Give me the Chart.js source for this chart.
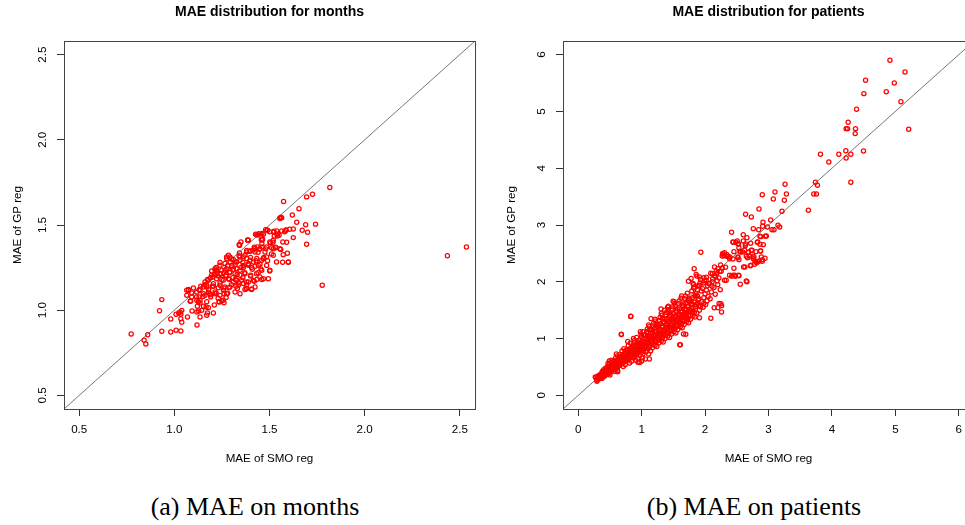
<!DOCTYPE html>
<html>
<head>
<meta charset="utf-8">
<script src="https://cdn.jsdelivr.net/npm/chart.js@4.4.1/dist/chart.umd.min.js"></script>
<style>
  html, body { margin: 0; padding: 0; background: #fff; }
  body { width: 965px; height: 525px; overflow: hidden; position: relative; }
  canvas { position: absolute; top: 0; }
  .cap { position: absolute; width: 400px; text-align: center; font-family: "Liberation Serif", "Times New Roman", serif;
         font-size: 26px; line-height: 30px; color: #000; top: 492px; }
</style>
</head>
<body>
<canvas id="months" width="485" height="480" style="left:0px"></canvas>
<canvas id="patients" width="500" height="480" style="left:485px"></canvas>
<div class="cap" style="left:55px">(a) MAE on months</div>
<div class="cap" style="left:554px">(b) MAE on patients</div>
<script>
// axis ranges (R adds 4% each side) and tick labels
const monthsRange = [0.42, 2.58];
const patientsRange = [-0.24, 6.24];
const monthsTicks = [0.5, 1.0, 1.5, 2.0, 2.5];
const patientsTicks = [0, 1, 2, 3, 4, 5, 6];

// [MAE of SMO reg, MAE of GP reg] per month
const monthsPts = [
  [1.817,1.72],[1.726,1.681],[1.695,1.665],[1.574,1.638],[1.655,1.595],[1.620,1.559],[1.555,1.538],[1.564,1.542],
  [1.643,1.516],[1.690,1.501],[1.742,1.505],[1.672,1.469],[1.700,1.458],[1.625,1.477],[1.606,1.475],[1.587,1.471],
  [1.564,1.465],[1.538,1.465],[1.522,1.458],[1.480,1.473],[1.490,1.469],[1.468,1.446],[1.454,1.440],[1.438,1.442],
  [1.427,1.446],[1.462,1.414],[1.385,1.411],[1.625,1.426],[1.590,1.399],[1.525,1.434],[1.504,1.395],[1.518,1.399],
  [1.511,1.366],[1.485,1.371],[1.534,1.367],[1.559,1.356],[1.461,1.371],[1.447,1.358],[1.436,1.371],[1.424,1.362],
  [1.412,1.352],[1.398,1.348],[1.380,1.342],[1.343,1.381],[1.342,1.336],[1.594,1.334],[1.520,1.322],[1.485,1.313],
  [1.459,1.293],[1.433,1.303],[1.398,1.293],[1.380,1.303],[1.363,1.313],[1.345,1.293],[1.328,1.283],[1.310,1.297],
  [1.275,1.313],[1.284,1.322],[1.293,1.283],[1.266,1.274],[1.240,1.264],[1.214,1.244],[1.196,1.230],[1.223,1.234],
  [1.249,1.234],[1.275,1.244],[1.301,1.254],[1.328,1.244],[1.345,1.234],[1.363,1.250],[1.389,1.264],[1.406,1.250],
  [1.424,1.258],[1.455,1.242],[1.501,1.230],[1.569,1.281],[1.599,1.281],[1.695,1.387],[1.777,1.146],[1.468,1.185],
  [1.459,1.180],[1.433,1.180],[1.406,1.125],[1.377,1.129],[1.380,1.166],[1.354,1.176],[1.328,1.176],[1.307,1.191],
  [1.289,1.180],[1.272,1.205],[1.244,1.211],[1.223,1.215],[1.202,1.195],[1.174,1.180],[1.161,1.166],[1.139,1.140],
  [1.170,1.136],[1.205,1.140],[1.231,1.132],[1.258,1.117],[1.287,1.132],[1.324,1.140],[1.331,1.127],[1.261,1.097],
  [1.272,1.074],[1.249,1.054],[1.235,1.050],[1.214,1.097],[1.191,1.078],[1.179,1.105],[1.153,1.097],[1.130,1.078],
  [1.118,1.058],[1.135,1.042],[1.121,1.023],[1.153,1.023],[1.167,1.019],[1.179,1.015],[1.118,0.989],[1.144,0.999],
  [1.174,0.984],[1.091,1.101],[1.074,1.121],[1.065,1.117],[1.086,1.054],[1.093,0.995],[1.128,0.995],[1.205,0.984],
  [1.170,0.970],[1.135,0.960],[1.119,0.913],[1.069,0.960],[1.039,0.999],[1.030,0.989],[1.023,0.984],[1.034,0.976],
  [1.009,0.976],[1.034,0.950],[1.039,0.929],[0.981,0.948],[0.934,1.062],[0.922,0.997],[0.934,0.876],[0.981,0.872],
  [1.009,0.882],[1.034,0.878],[0.860,0.856],[0.773,0.860],[0.841,0.823],[0.850,0.802],
  [1.555,1.541],[1.488,1.469],[1.443,1.449],[1.464,1.416],[1.389,1.410],[1.341,1.385],[1.523,1.463],[1.541,1.436],
  [1.586,1.469],[1.502,1.400],[1.520,1.361],[1.555,1.361],[1.572,1.326],[1.599,1.283],[1.537,1.283],[1.476,1.342],
  [1.450,1.361],[1.424,1.342],[1.397,1.346],[1.371,1.322],[1.345,1.312],[1.319,1.283],[1.292,1.312],[1.275,1.302],
  [1.301,1.263],[1.327,1.244],[1.362,1.263],[1.389,1.273],[1.415,1.283],[1.441,1.263],[1.467,1.302],[1.485,1.263],
  [1.459,1.234],[1.432,1.214],[1.401,1.205],[1.371,1.214],[1.345,1.205],[1.319,1.214],[1.292,1.224],[1.266,1.234],
  [1.240,1.214],[1.214,1.234],[1.196,1.205],[1.222,1.185],[1.257,1.175],[1.284,1.185],[1.310,1.165],[1.336,1.146],
  [1.362,1.156],[1.389,1.165],[1.415,1.175],[1.450,1.195],[1.494,1.185],[1.502,1.234],[1.424,1.136],[1.380,1.126],
  [1.371,1.122],[1.406,1.122],[1.345,1.097],[1.319,1.107],[1.292,1.136],[1.266,1.136],[1.240,1.146],[1.205,1.156],
  [1.179,1.175],[1.170,1.146],[1.152,1.136],[1.135,1.116],[1.117,1.107],[1.100,1.130],[1.074,1.116],[1.117,1.077],
  [1.135,1.058],[1.161,1.087],[1.187,1.097],[1.214,1.107],[1.240,1.087],[1.257,1.058],[1.275,1.097],[1.236,1.048],
  [1.261,1.044],[1.126,1.048],[1.091,1.077],[1.065,1.087],[1.083,1.052],
  [1.386,1.412],[1.342,1.381],[1.457,1.414],[1.433,1.443],[1.560,1.545],[1.541,1.447],
  [1.22,1.25],[1.24,1.28],[1.26,1.22],[1.28,1.26],[1.30,1.30],[1.32,1.27],[1.34,1.32],[1.36,1.28],[1.38,1.35],
  [1.40,1.31],[1.42,1.37],[1.44,1.34],[1.46,1.39],[1.48,1.36],[1.25,1.18],[1.27,1.20],[1.29,1.22],[1.31,1.24],
  [1.33,1.21],[1.35,1.25],[1.37,1.22],[1.39,1.27],[1.41,1.24],[1.43,1.29],[1.45,1.27],[1.47,1.31],[1.49,1.29],
  [1.51,1.33],[1.18,1.12],[1.20,1.14],[1.22,1.10],[1.24,1.16],[1.26,1.13],[1.28,1.10],[1.30,1.15],[1.32,1.18],
  [1.34,1.16],[1.36,1.19],[1.38,1.15],[1.40,1.20],[1.42,1.17],[1.44,1.22],[1.15,1.08],[1.17,1.05],[1.19,1.09],
  [1.21,1.03],[1.23,1.07],[1.13,1.12],[1.16,1.15],[1.19,1.19],[1.21,1.21],[1.23,1.20],[1.52,1.41],[1.55,1.44],
  [1.58,1.46],[1.53,1.37],[1.57,1.40],[1.46,1.45],[1.50,1.46],[1.35,1.40],
  [2.435,1.320],[2.535,1.371]
];

// [MAE of SMO reg, MAE of GP reg] per patient
const patientsPts = [
  [4.915,5.90],[5.152,5.695],[4.530,5.548],[4.983,5.501],[4.857,5.348],[4.504,5.313],[5.088,5.172],[4.388,5.037],
  [5.210,4.685],[4.256,4.808],[4.224,4.697],[4.246,4.697],[4.372,4.697],[4.367,4.609],[4.219,4.309],[4.498,4.303],
  [4.224,4.180],[4.298,4.245],[3.819,4.245],[4.109,4.245],[3.951,4.110],[4.298,3.752],[3.740,3.752],[3.772,3.699],
  [3.714,3.546],[3.756,3.546],[3.629,3.259],[3.261,3.716],[3.282,3.546],[3.102,3.581],[2.902,3.534],[3.076,3.458],
  [3.250,3.435],[2.850,3.282],[3.213,3.241],[2.639,3.188],[2.729,3.141],[3.034,3.088],[2.913,3.047],[3.150,2.994],
  [3.176,2.965],[3.055,2.918],[3.087,2.918],[2.982,2.965],[2.845,2.918],[2.760,2.936],[2.908,2.977],[2.418,2.871],
  [2.602,2.830],[2.660,2.777],[2.950,2.801],[2.866,2.801],[2.444,2.695],[2.528,2.666],[2.507,2.718],[2.823,2.695],
  [2.918,2.654],[2.639,2.666],[1.933,2.519],[2.729,2.554],[2.549,2.537],[2.686,2.519],[2.871,2.542],[2.275,2.495],
  [2.297,2.460],[2.339,2.449],[2.391,2.437],[2.518,2.437],[2.650,2.449],[2.771,2.437],[2.887,2.437],
  [2.602,2.718],[2.966,2.806],[2.876,2.795],[2.439,2.701],[2.486,2.695],[2.518,2.671],[2.829,2.701],[2.718,2.677],
  [2.866,2.660],[2.634,2.636],[2.534,2.595],[2.623,2.554],[2.739,2.554],[2.802,2.531],[2.876,2.542],[2.676,2.519],
  [2.455,2.531],[2.560,2.525],[2.307,2.513],[2.344,2.478],[2.281,2.495],[2.270,2.454],[2.365,2.442],[2.386,2.407],
  [2.439,2.401],[2.518,2.425],[2.534,2.390],[2.592,2.525],[2.671,2.425],[2.702,2.448],[2.755,2.448],[2.760,2.407],
  [2.786,2.366],[2.855,2.366],[2.902,2.390],[2.945,2.413],[2.723,2.290],[2.628,2.261],[2.781,2.308],[2.829,2.355],
  [1.828,2.231],[2.149,2.261],[2.270,2.243],[2.455,2.237],[2.607,2.261],[2.323,2.255],[2.175,2.190],[2.254,2.184],
  [1.859,2.131],[1.912,2.084],[1.981,2.073],[2.017,2.026],[2.118,2.143],[2.165,2.096],[2.218,2.067],[2.112,2.002],
  [2.060,1.967],[1.975,1.979],[1.912,1.938],[1.833,1.908],[1.738,2.008],[2.333,2.026],[2.418,2.096],[2.470,2.114],
  [2.534,2.108],[2.555,1.955],[2.650,2.014],
  [2.244,2.296],[2.202,2.231],[2.386,2.114],[2.439,2.114],[2.476,2.096],[2.528,2.114],[2.713,2.284],[2.813,2.337],
  [2.902,2.360],[2.660,2.002],[2.307,2.026],[2.260,1.468],[2.091,1.357],[2.250,1.615],[2.202,1.544],[2.144,1.544],
  [1.912,1.368],[1.601,0.893],[1.696,1.075],[0.827,1.392],[0.680,1.075],[1.148,1.351],[1.122,0.640],[0.943,0.582],
  [1.000,0.605],[0.622,0.417],[0.295,0.247],[0.269,0.323],[0.342,0.294],[0.490,0.605],[1.306,1.521],[1.422,1.568],
  [1.496,1.656],
  [0.28,0.31],[0.30,0.27],[0.31,0.34],[0.33,0.30],[0.34,0.36],[0.32,0.33],[0.35,0.32],
  [0.36,0.38],[0.37,0.33],[0.38,0.42],[0.39,0.36],[0.40,0.45],[0.41,0.39],[0.42,0.34],[0.43,0.48],[0.44,0.41],
  [0.38,0.30],[0.42,0.44],[0.45,0.37],
  [0.46,0.50],[0.47,0.43],[0.48,0.38],[0.49,0.55],[0.50,0.47],[0.51,0.41],[0.52,0.58],[0.53,0.52],[0.54,0.44],
  [0.47,0.56],[0.50,0.36],[0.55,0.49],[0.52,0.62],
  [0.56,0.60],[0.57,0.46],[0.58,0.53],[0.59,0.66],[0.60,0.57],[0.61,0.48],[0.62,0.70],[0.63,0.62],[0.64,0.52],
  [0.58,0.42],[0.65,0.67],[0.60,0.73],[0.62,0.44],[0.64,0.58],
  [0.66,0.72],[0.67,0.55],[0.68,0.63],[0.69,0.78],[0.70,0.68],[0.71,0.51],[0.72,0.82],[0.73,0.60],[0.74,0.74],
  [0.75,0.65],[0.68,1.07],[0.70,0.58],[0.72,0.70],[0.74,0.54],[0.66,0.64],
  [0.76,0.80],[0.77,0.62],[0.78,0.71],[0.79,0.88],[0.80,0.76],[0.81,0.57],[0.82,0.92],[0.83,0.68],[0.84,0.84],
  [0.85,0.73],[0.83,1.39],[0.78,0.95],[0.80,0.64],[0.82,0.80],[0.84,0.60],[0.77,0.74],
  [0.86,0.88],[0.87,0.66],[0.88,0.77],[0.89,0.97],[0.90,0.83],[0.91,0.62],[0.92,1.02],[0.93,0.73],[0.94,0.92],
  [0.95,0.79],[0.87,1.00],[0.90,0.70],[0.92,0.87],[0.94,0.65],[0.88,0.93],[0.91,0.76],
  [0.96,0.97],[0.97,0.70],[0.98,0.84],[0.99,1.08],[1.00,0.90],[1.01,0.66],[1.02,1.12],[1.03,0.78],[1.04,1.00],
  [1.05,0.86],[0.97,0.58],[1.00,1.04],[1.02,0.73],[1.04,0.94],[0.98,1.12],[1.01,0.82],[1.03,1.06],
  [1.06,1.06],[1.07,0.77],[1.08,0.93],[1.09,1.17],[1.10,0.99],[1.11,0.73],[1.12,1.21],[1.13,0.86],[1.14,1.10],
  [1.15,0.95],[1.06,0.64],[1.08,1.12],[1.10,0.82],[1.12,1.03],[1.14,0.78],[1.11,1.24],[1.07,0.88],[1.13,1.15],
  [1.16,1.15],[1.17,0.84],[1.18,1.01],[1.19,1.27],[1.20,1.08],[1.21,0.88],[1.22,1.31],[1.23,0.94],[1.24,1.19],
  [1.25,1.03],[1.16,0.92],[1.18,1.22],[1.20,0.97],[1.22,1.12],[1.24,0.86],[1.19,1.05],[1.21,1.34],[1.23,1.25],
  [1.26,1.25],[1.27,0.92],[1.28,1.09],[1.29,1.37],[1.30,1.16],[1.31,0.96],[1.32,1.41],[1.33,1.02],[1.34,1.29],
  [1.35,1.12],[1.26,1.00],[1.28,1.32],[1.30,1.05],[1.32,1.21],[1.34,0.94],[1.29,1.14],[1.31,1.44],[1.33,1.35],
  [1.36,1.50],
  [1.36,1.34],[1.37,1.00],[1.38,1.17],[1.39,1.46],[1.40,1.25],[1.41,1.04],[1.42,1.51],[1.43,1.10],[1.44,1.39],
  [1.45,1.20],[1.36,1.08],[1.38,1.42],[1.40,1.13],[1.42,1.30],[1.44,1.02],[1.39,1.22],[1.41,1.55],[1.43,1.47],
  [1.45,1.33],
  [1.46,1.43],[1.47,1.08],[1.48,1.26],[1.49,1.56],[1.50,1.34],[1.51,1.12],[1.52,1.62],[1.53,1.18],[1.54,1.48],
  [1.55,1.29],[1.46,1.16],[1.48,1.52],[1.50,1.21],[1.52,1.39],[1.54,1.10],[1.49,1.31],[1.51,1.65],[1.53,1.57],
  [1.56,1.52],[1.57,1.16],[1.58,1.35],[1.59,1.66],[1.60,1.43],[1.61,1.21],[1.62,1.71],[1.63,1.27],[1.64,1.57],
  [1.65,1.38],[1.56,1.25],[1.58,1.62],[1.60,1.30],[1.62,1.48],[1.64,1.19],[1.61,0.89],[1.66,1.08],[1.59,1.40],
  [1.63,1.75],
  [1.66,1.61],[1.67,1.25],[1.68,1.44],[1.69,1.75],[1.70,1.52],[1.71,1.30],[1.72,1.80],[1.73,1.36],[1.74,1.66],
  [1.75,1.47],[1.66,1.34],[1.68,1.70],[1.70,1.39],[1.72,1.57],[1.74,1.28],[1.69,1.49],
  [1.76,1.70],[1.77,1.34],[1.78,1.53],[1.79,1.84],[1.80,1.61],[1.81,1.40],[1.82,1.89],[1.83,1.46],[1.84,1.75],
  [1.85,1.56],[1.78,1.65],[1.80,1.48],[1.82,1.95],[1.84,1.38],[1.78,2.06],[1.81,1.97],
  [1.86,1.79],[1.87,1.45],[1.88,1.62],[1.89,1.93],[1.90,1.70],[1.91,1.50],[1.92,1.98],[1.93,1.56],[1.94,1.84],
  [1.95,1.65],[1.87,2.10],[1.90,1.58],[1.93,2.04],[1.88,1.75],
  [1.96,1.88],[1.97,1.55],[1.98,1.72],[1.99,2.02],[2.00,1.79],[2.01,1.60],[2.02,2.08],[2.03,1.66],[2.04,1.93],
  [2.05,1.74],[1.98,1.62],[2.02,1.85],
  [2.07,1.97],[2.08,1.70],[2.10,1.82],[2.12,2.05],[2.14,1.90],[2.16,1.78],[2.18,2.14],[2.20,1.95],[2.22,1.62],
  [2.24,1.86],[2.11,1.92],[2.19,2.02],[2.26,1.58],[2.09,2.15],[2.15,2.10],[2.23,2.18],
  [0.29,0.28],[0.31,0.30],[0.33,0.33],[0.35,0.35],[0.36,0.31],[0.37,0.36],[0.39,0.40],[0.40,0.34],[0.41,0.42],
  [0.43,0.39],[0.44,0.44],[0.45,0.42],[0.46,0.40],[0.47,0.47],[0.48,0.44],[0.49,0.42],[0.50,0.51],[0.51,0.46],
  [0.52,0.44],[0.53,0.49],[0.54,0.54],[0.55,0.45],[0.55,0.53],[0.56,0.50],[0.57,0.56],[0.58,0.48],[0.59,0.52],
  [0.60,0.62],[0.61,0.54],[0.62,0.50],[0.63,0.57],[0.64,0.64],[0.65,0.55],[0.66,0.60],[0.67,0.66],[0.68,0.58],
  [0.69,0.62],[0.70,0.72],[0.71,0.64],[0.72,0.59],[0.73,0.67],[0.74,0.77],[0.75,0.70],[0.76,0.63],[0.77,0.68],
  [0.78,0.80],[0.79,0.73],[0.80,0.67],[0.81,0.78],[0.82,0.71],[0.83,0.83],[0.84,0.76],[0.85,0.68],[0.86,0.80],
  [0.87,0.74],[0.88,0.86],[0.89,0.79],[0.90,0.72],[0.91,0.90],[0.92,0.80],[0.93,0.86],[0.94,0.76],[0.95,0.94],
  [0.96,0.84],[0.97,0.78],[0.98,0.92],[0.99,0.86],[1.00,0.76],[1.01,0.96],[1.02,0.88],[1.03,0.82],[1.04,1.06],
  [1.05,0.93],[1.06,0.84],[1.07,1.00],[1.08,0.87],[1.09,0.96],[1.10,1.10],[1.11,0.92],[1.12,0.85],[1.13,1.00],
  [1.14,1.16],[1.15,1.04],[1.16,0.96],[1.17,1.10],[1.18,0.90],[1.19,1.00],[1.20,1.18],[1.21,1.06],[1.22,0.96],
  [1.23,1.12],[1.24,1.02],[1.25,1.22],[1.26,1.10],[1.27,0.99],[1.28,1.18],[1.29,1.06],[1.30,1.26],[1.31,1.12],
  [1.32,1.02],[1.33,1.20],[1.34,1.10],[1.35,1.30],[1.36,1.16],[1.37,1.06],[1.38,1.24],[1.39,1.12],[1.40,1.34],
  [1.41,1.20],[1.42,1.10],[1.43,1.28],[1.44,1.16],[1.45,1.40],[1.46,1.24],[1.47,1.14],[1.48,1.34],[1.49,1.20],
  [1.50,1.44],[1.51,1.28],[1.52,1.18],[1.53,1.36],[1.54,1.24],[1.55,1.48],[1.56,1.34],[1.57,1.22],[1.58,1.42],
  [1.59,1.28],[1.60,1.52],[1.61,1.38],[1.62,1.26],[1.63,1.46],[1.64,1.32],[1.65,1.58],[1.66,1.42],[1.67,1.30],
  [1.68,1.52],[1.69,1.38],[1.70,1.62],[1.71,1.46],[1.72,1.34],[1.73,1.56],[1.74,1.42],[1.75,1.68],[1.76,1.50],
  [1.77,1.40],[1.78,1.60],[1.79,1.46],[1.80,1.72],[1.81,1.54],[1.83,1.64],[1.85,1.76],[1.86,1.60],[1.88,1.86],
  [1.89,1.68]
];

const FONT = '"Liberation Sans", Arial, sans-serif';

// R-style frame: box, rotated y tick labels, titles
const rFrame = {
  id: 'rFrame',
  afterDraw(chart, args, o) {
    const {ctx, chartArea: a} = chart;
    const ys = chart.scales.y;
    ctx.save();
    ctx.strokeStyle = '#444';
    ctx.lineWidth = 1;
    ctx.strokeRect(Math.round(a.left) + 0.5, Math.round(a.top) + 0.5, a.right - a.left, a.bottom - a.top);
    ctx.fillStyle = '#000';
    ctx.font = '11.6px ' + FONT;
    ctx.textAlign = 'center';
    ctx.textBaseline = 'middle';
    ys.ticks.forEach(t => {
      ctx.save();
      ctx.translate(a.left - 21, ys.getPixelForValue(t.value));
      ctx.rotate(-Math.PI / 2);
      ctx.fillText(o.fmt(t.value), 0, 0);
      ctx.restore();
    });
    const cx = (a.left + a.right) / 2;
    ctx.fillText(o.xTitle, cx, 459);
    ctx.save();
    ctx.translate(a.left - o.yTitleOff, (a.top + a.bottom) / 2);
    ctx.rotate(-Math.PI / 2);
    ctx.fillText(o.yTitle, 0, 0);
    ctx.restore();
    ctx.font = 'bold 14px ' + FONT;
    ctx.fillText(o.title, cx, 12);
    ctx.restore();
  }
};

function makeChart(id, pts, range, ticks, fmt, title, yAxisW, padRight, yTitleOff) {
  const setTicks = s => { s.ticks = ticks.map(v => ({value: v})); };
  const grid = {drawOnChartArea: false, drawTicks: true, tickLength: 7, color: '#333', tickColor: '#333'};
  return new Chart(document.getElementById(id), {
    type: 'scatter',
    data: {
      datasets: [{
        data: pts.map(p => ({x: p[0], y: p[1]})),
        pointRadius: 2.1,
        pointBorderWidth: 1.25,
        pointBorderColor: '#ff0000',
        pointBackgroundColor: 'rgba(0,0,0,0)',
        pointHoverRadius: 2.1
      }, {
        type: 'line',
        data: [{x: range[0], y: range[0]}, {x: range[1], y: range[1]}],
        borderColor: '#777',
        borderWidth: 1,
        pointRadius: 0,
        fill: false
      }]
    },
    options: {
      responsive: false,
      animation: false,
      devicePixelRatio: 1,
      layout: {padding: {top: 41, left: 0, right: padRight, bottom: 0}},
      plugins: {
        legend: {display: false},
        tooltip: {enabled: false},
        rFrame: {title: title, xTitle: 'MAE of SMO reg', yTitle: 'MAE of GP reg', fmt: fmt, yTitleOff: yTitleOff}
      },
      scales: {
        x: {
          type: 'linear', min: range[0], max: range[1],
          afterBuildTicks: setTicks,
          afterFit: s => { s.height = 71; },
          ticks: {color: '#000', font: {family: FONT, size: 11.6}, padding: 7, callback: v => fmt(v), maxRotation: 0},
          grid: grid,
          border: {display: false}
        },
        y: {
          type: 'linear', min: range[0], max: range[1],
          afterBuildTicks: setTicks,
          afterFit: s => { s.width = yAxisW; },
          ticks: {display: false},
          grid: grid,
          border: {display: false}
        }
      }
    },
    plugins: [rFrame]
  });
}

makeChart('months', monthsPts, monthsRange, monthsTicks, v => v.toFixed(1),
  'MAE distribution for months', 64, 10, 46);
makeChart('patients', patientsPts, patientsRange, patientsTicks, v => String(v),
  'MAE distribution for patients', 78, 11, 51);
</script>
</body>
</html>
